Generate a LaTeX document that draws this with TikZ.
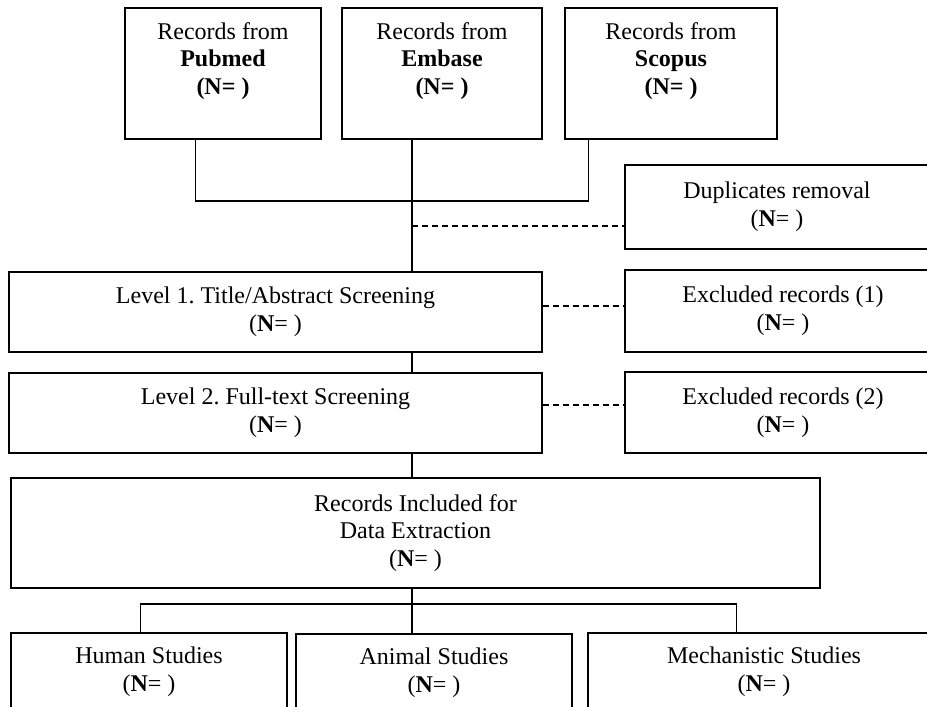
\documentclass[tikz,border=0pt]{standalone}
\usepackage{fontspec}
\setmainfont{Liberation Serif}
\usetikzlibrary{calc}
\begin{document}
\frenchspacing
\begin{tikzpicture}[x=0.5pt,y=-0.5pt,
  box/.style={draw, line width=0.6pt, inner sep=0pt, align=center, font=\fontsize{12}{13.8}\selectfont},
  txt/.style={inner sep=0pt, align=center, font=\fontsize{12}{13.8}\selectfont},
  conn/.style={line width=0.6pt},
  dashconn/.style={line width=0.6pt, dash pattern=on 3pt off 2pt}]
\useasboundingbox (0,0) rectangle (927,707);
\clip (0,0) rectangle (927,707);
% top source boxes
\node[box, minimum width=98pt, minimum height=65.5pt] (pub) at (223,73.5) {};
\node[txt] (pubt) at (223,61) {Records from\\\textbf{Pubmed}\\\textbf{(N= )}};
\node[box, minimum width=100pt, minimum height=65.5pt] (emb) at (442,73.5) {};
\node[txt] (embt) at (442,61) {Records from\\\textbf{Embase}\\\textbf{(N= )}};
\node[box, minimum width=106pt, minimum height=65.5pt] (sco) at (671,73.5) {};
\node[txt] (scot) at (671,61) {Records from\\\textbf{Scopus}\\\textbf{(N= )}};
% side boxes
\node[box, minimum width=152pt, minimum height=42pt] (dup) at (777,207) {Duplicates removal\\(\textbf{N}= )};
\node[box, minimum width=266.5pt, minimum height=40pt] (lev1) at (275.5,312) {Level 1. Title/Abstract Screening\\(\textbf{N}= )};
\node[box, minimum width=158pt, minimum height=41pt] (exc1) at (783,311) {Excluded records (1)\\(\textbf{N}= )};
\node[box, minimum width=266.5pt, minimum height=40pt] (lev2) at (275.5,413) {Level 2. Full-text Screening\\(\textbf{N}= )};
\node[box, minimum width=158pt, minimum height=40.5pt] (exc2) at (783,412.5) {Excluded records (2)\\(\textbf{N}= )};
\node[box, minimum width=404.5pt, minimum height=55pt] (rec) at (415.5,533) {Records Included for\\Data Extraction\\(\textbf{N}= )};
\node[box, minimum width=138pt, minimum height=39pt] (hum) at (149,672) {Human Studies\\(\textbf{N}= )};
\node[box, minimum width=138pt, minimum height=38.5pt] (ani) at (434,672.5) {Animal Studies\\(\textbf{N}= )};
\node[box, minimum width=176pt, minimum height=39pt] (mech) at (764,672) {Mechanistic Studies\\(\textbf{N}= )};
% helper coordinates
\coordinate (spine) at (412,0);
\coordinate (merge) at (412,201);
\coordinate (branch) at (412,604);
% connectors
\draw[conn] ([xshift=35.5pt]pub.south west) |- (merge) -| ([xshift=12pt]sco.south west);
\draw[conn] (emb.south -| spine) -- (lev1.north -| spine);
\draw[dashconn] ([yshift=-9.5pt]dup.west -| spine) -- ([yshift=-9.5pt]dup.west);
\draw[dashconn] ([yshift=2.5pt]exc1.west -| lev1.east) -- ([yshift=2.5pt]exc1.west);
\draw[dashconn] ([yshift=3.75pt]exc2.west -| lev2.east) -- ([yshift=3.75pt]exc2.west);
\draw[conn] (lev1.south -| spine) -- (lev2.north -| spine);
\draw[conn] (lev2.south -| spine) -- (rec.north -| spine);
\draw[conn] (rec.south -| spine) -- (ani.north -| spine);
\draw[conn] ([xshift=65pt]hum.north west) |- (branch) -| ([xshift=74.5pt]mech.north west);
\end{tikzpicture}
\end{document}
